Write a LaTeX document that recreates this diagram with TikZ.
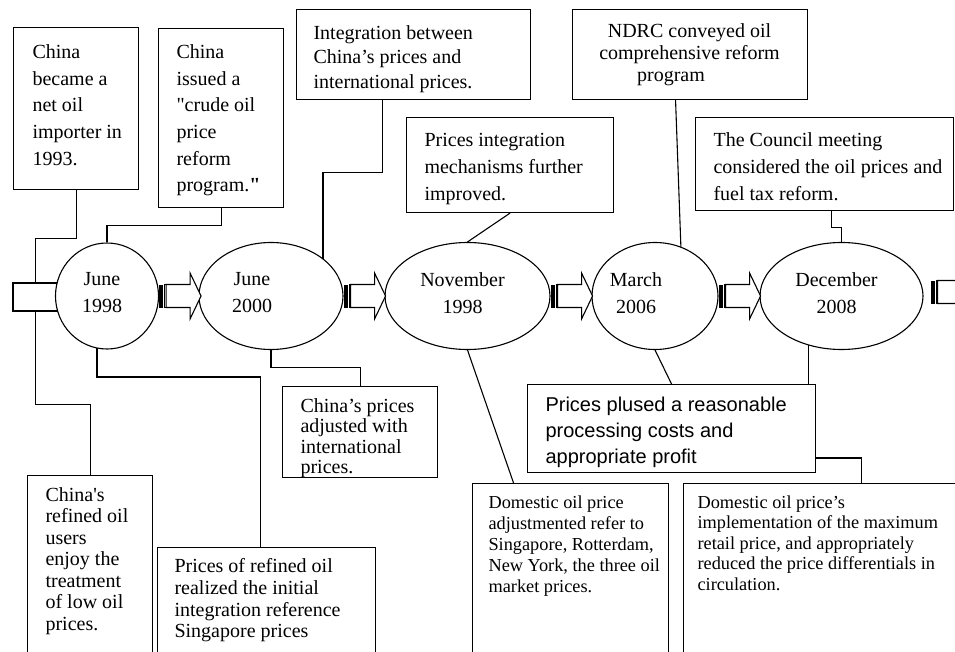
\documentclass[tikz,border=0pt]{standalone}
\usepackage{fontspec}
\setmainfont{Liberation Serif}
\newfontfamily\arialfont{Liberation Sans}
\usetikzlibrary{shapes.geometric}
\pgfdeclarelayer{background}
\pgfsetlayers{background,main}

\tikzset{
  frame/.style={draw, fill=white, anchor=north west, inner sep=0pt},
  note/.style={anchor=north west, inner sep=0pt, align=left,
    font=\fontsize{20}{#1}\selectfont, execute at begin node={\rule{0pt}{15pt}}},
  small note/.style={note, font=\fontsize{18.3}{#1}\selectfont},
  year/.style={draw, ellipse, fill=white, inner sep=0pt, minimum height=107pt},
  yeartext/.style={inner sep=0pt, align=center, font=\fontsize{20}{27}\selectfont},
  link/.style={line width=1.1pt},
  striped/.pic={
    \fill (0,-11.5) rectangle (4,11.5);
    \draw (5.5,-11.5) rectangle (7,11.5);
    \draw[fill=white] (7,-11.5) -- (31,-11.5) -- (31,-23) -- (42,0) -- (31,23) -- (31,11.5) -- (7,11.5) -- cycle;
  }
}

\begin{document}
\begin{tikzpicture}[x=1pt,y=-1pt,line width=1.1pt,line join=miter]
\useasboundingbox (0,0) rectangle (955,652);

% boxes above the time line
\node[frame, minimum width=125pt, minimum height=162pt] (importer) at (13,27) {};
\node[note=26.7] (importer-t) at (32,44) {China\\became a\\net oil\\importer in\\1993.};
\node[frame, minimum width=125pt, minimum height=179pt] (crude) at (158,28) {};
\node[note=26.7] (crude-t) at (176,44) {China\\issued a\\\textquotedbl crude oil\\price\\reform\\program.\textbf{\textquotedbl}};
\node[frame, minimum width=234pt, minimum height=90pt] (integ) at (296,9) {};
\node[note=24.5] (integ-t) at (313,25) {Integration between\\China’s prices and\\international prices.};
\node[frame, minimum width=207pt, minimum height=95pt] (improved) at (406,117) {};
\node[note=27] (improved-t) at (424,133) {Prices integration\\mechanisms further\\improved.};
\node[frame, minimum width=235pt, minimum height=90pt] (ndrc) at (572,9) {};
\node[note=22, align=center, anchor=north] (ndrc-t) at (689.5,23) {NDRC conveyed oil\\comprehensive reform\\program\hspace*{37pt}};
\node[frame, minimum width=258pt, minimum height=93pt] (council) at (695,117) {};
\node[note=27] (council-t) at (713,132) {The Council meeting\\considered the oil prices and\\fuel tax reform.};

% boxes below the time line
\node[frame, minimum width=125pt, minimum height=200pt] (users) at (27,475) {};
\node[note=21.5] (users-t) at (45,487) {China\textquotesingle s\\refined oil\\users\\enjoy the\\treatment\\of low oil\\prices.};
\node[frame, minimum width=218pt, minimum height=130pt] (refined) at (157,547) {};
\node[note=21.7] (refined-t) at (174,558) {Prices of refined oil\\realized the initial\\integration reference\\Singapore prices};
\node[frame, minimum width=155pt, minimum height=91pt] (adjust) at (282,386) {};
\node[note=20.5] (adjust-t) at (300,398) {China’s prices\\adjusted with\\international\\prices.};
\node[frame, minimum width=288pt, minimum height=88pt] (plus) at (527,384) {};
\node[note=26, font=\arialfont\fontsize{20}{26}\selectfont] (plus-t) at (545,396) {Prices plused a reasonable\\processing costs and\\appropriate profit};
\node[frame, minimum width=196pt, minimum height=200pt] (sing) at (472,483) {};
\node[small note=21] (sing-t) at (488,495) {Domestic oil price\\adjustmented refer to\\Singapore, Rotterdam,\\New York, the three oil\\market prices.};
\node[frame, minimum width=277pt, minimum height=200pt] (retail) at (683,483) {};
\node[small note=20.5] (retail-t) at (697,495) {Domestic oil price’s\\implementation of the maximum\\retail price, and appropriately\\reduced the price differentials in\\circulation.};

% time line
\node[year, minimum width=103pt, minimum height=106pt] (j98) at (107,296) {};
\node[year, minimum width=144pt] (j00) at (271,296) {};
\node[year, minimum width=165pt] (n98) at (467.5,296) {};
\node[year, minimum width=126pt] (m06) at (655,296) {};
\node[year, minimum width=163pt] (d08) at (841.5,296) {};
\node[yeartext] (j98-t) at ([shift={(-5,-3)}]j98) {June\\1998};
\node[yeartext] (j00-t) at ([shift={(-19,-3)}]j00) {June\\2000};
\node[yeartext] (n98-t) at ([shift={(-5,-3)}]n98) {November\\1998};
\node[yeartext] (m06-t) at ([shift={(-19,-3)}]m06) {March\\2006};
\node[yeartext] (d08-t) at ([shift={(-5,-3)}]d08) {December\\2008};

\foreach \a in {j98,j00,n98,m06}
  \pic at (\a.east) {striped};
\pic at ([shift={(7,-4)}]d08.east) {striped};

\begin{pgfonlayer}{background}
\begin{scope}[link]
\draw (importer.south) -- ++(0,48) -- ++(-41,0) -- ++(0,166) -| (users.north);
\draw[fill=white] (13,283) rectangle (80,311);
\draw (crude.south) -- ++(0,17) -| (j98.north);
\draw ([xshift=-10]j98.center) -- ++(0,81) -| ([xshift=-6]refined.north);
\draw ([xshift=-31]integ.south) -- ++(0,72) -| ([xshift=52]j00.center);
\draw (j00.south) -- ++(0,17) -| (adjust.north);
\draw (improved.south) -- (n98.north);
\draw (n98.south) -- ([xshift=-57]sing.north);
\draw ([xshift=-14.5]ndrc.south) -- ([shift={(26,8)}]m06.north);
\draw (m06.south) -- (plus.north);
\draw ([xshift=7]council.south) -- ++(0,16) -| (d08.north);
\draw ([xshift=-33]d08.center) -- ++(0,162) -| ([xshift=39]retail.north);
\end{scope}
\end{pgfonlayer}
\end{tikzpicture}
\end{document}
